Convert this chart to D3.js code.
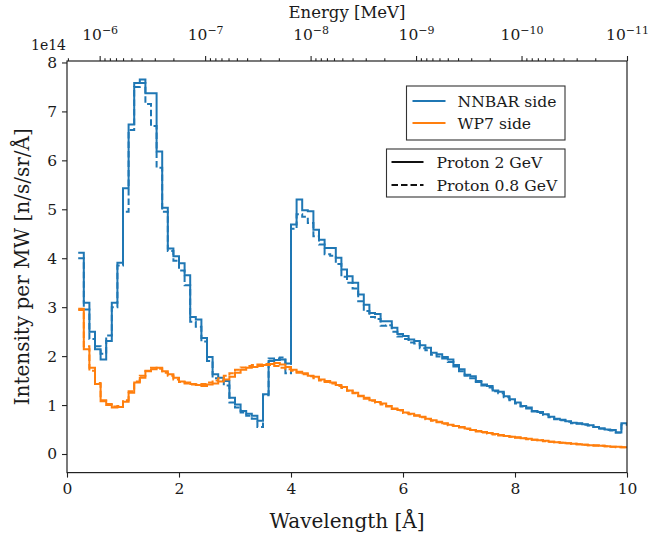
<!DOCTYPE html>
<html><head><meta charset="utf-8">
<script src="https://cdn.jsdelivr.net/npm/d3@7"></script>
<style>
body{margin:0;background:#fff}
svg{display:block}
text{font-family:"DejaVu Serif",serif;fill:#1a1a1a}
</style>
</head><body>
<svg id="chart" width="649" height="536"></svg>
<script>
// ---- data ----
const binEdges = [0.2,0.3,0.4,0.5,0.6,0.7,0.8,0.9,1.0,1.1,1.2,1.3,1.4,1.5,1.6,1.7,1.8,1.9,2.0,2.1,2.2,2.3,2.4,2.5,2.6,2.7,2.8,2.9,3.0,3.1,3.2,3.3,3.4,3.5,3.6,3.7,3.8,3.9,4.0,4.1,4.2,4.3,4.4,4.5,4.6,4.7,4.8,4.9,5.0,5.1,5.2,5.3,5.4,5.5,5.6,5.7,5.8,5.9,6.0,6.1,6.2,6.3,6.4,6.5,6.6,6.7,6.8,6.9,7.0,7.1,7.2,7.3,7.4,7.5,7.6,7.7,7.8,7.9,8.0,8.1,8.2,8.3,8.4,8.5,8.6,8.7,8.8,8.9,9.0,9.1,9.2,9.3,9.4,9.5,9.6,9.7,9.8,9.9,10.0];

const nnbarProton2GeV = [4.11,3.09,2.50,2.14,1.93,2.31,3.09,3.91,5.43,6.73,7.58,7.65,7.37,7.37,6.18,5.03,4.20,4.04,3.90,3.65,2.80,2.75,2.37,1.98,1.63,1.56,1.49,1.15,1.01,0.88,0.82,0.78,0.68,1.22,1.90,1.92,1.93,1.85,4.69,5.20,4.98,4.96,4.58,4.38,4.21,4.21,4.01,3.77,3.63,3.50,3.26,3.05,2.88,2.86,2.71,2.71,2.58,2.45,2.41,2.34,2.31,2.22,2.17,2.07,2.04,1.98,1.93,1.82,1.73,1.62,1.59,1.49,1.42,1.39,1.30,1.27,1.18,1.12,1.05,0.98,0.95,0.88,0.86,0.81,0.76,0.72,0.70,0.67,0.64,0.63,0.61,0.59,0.55,0.52,0.50,0.49,0.44,0.63];
const nnbarProton08GeV = [4.00,2.95,2.35,2.20,2.05,2.42,3.00,3.85,4.95,6.62,7.50,7.58,7.15,6.70,5.85,4.95,4.15,3.95,3.75,3.45,2.70,2.60,2.30,1.90,1.55,1.50,1.40,1.05,0.95,0.85,0.78,0.72,0.55,1.20,1.95,1.95,1.97,1.65,4.60,4.90,4.85,4.72,4.45,4.28,4.08,4.05,3.88,3.62,3.50,3.38,3.12,2.92,2.80,2.76,2.62,2.63,2.50,2.40,2.35,2.28,2.26,2.16,2.12,2.03,1.99,1.95,1.88,1.79,1.69,1.60,1.55,1.47,1.40,1.36,1.28,1.24,1.16,1.10,1.03,0.97,0.93,0.87,0.84,0.80,0.75,0.71,0.69,0.66,0.63,0.62,0.60,0.58,0.55,0.52,0.49,0.48,0.44,0.60];
const wp7Proton2GeV = [2.94,2.14,1.76,1.43,1.08,1.00,0.95,0.96,1.07,1.25,1.46,1.56,1.69,1.73,1.76,1.69,1.63,1.56,1.48,1.46,1.43,1.41,1.39,1.42,1.44,1.48,1.52,1.58,1.66,1.72,1.76,1.78,1.80,1.82,1.84,1.86,1.83,1.78,1.72,1.68,1.65,1.60,1.58,1.52,1.49,1.46,1.41,1.37,1.30,1.25,1.19,1.15,1.10,1.06,1.03,0.98,0.93,0.90,0.85,0.82,0.79,0.76,0.72,0.69,0.66,0.63,0.60,0.57,0.55,0.52,0.49,0.47,0.45,0.43,0.41,0.39,0.37,0.35,0.34,0.32,0.31,0.29,0.28,0.27,0.25,0.24,0.23,0.22,0.21,0.20,0.19,0.18,0.18,0.17,0.16,0.15,0.15,0.14];
const wp7Proton08GeV = [2.97,2.20,1.70,1.45,1.10,1.02,0.97,0.98,1.10,1.28,1.48,1.60,1.70,1.76,1.74,1.66,1.60,1.52,1.47,1.44,1.42,1.42,1.43,1.46,1.50,1.55,1.60,1.65,1.72,1.77,1.80,1.82,1.83,1.84,1.82,1.80,1.76,1.73,1.70,1.66,1.63,1.59,1.55,1.50,1.47,1.44,1.39,1.35,1.29,1.24,1.18,1.13,1.09,1.05,1.01,0.97,0.92,0.89,0.84,0.81,0.78,0.75,0.71,0.68,0.65,0.62,0.59,0.57,0.54,0.51,0.49,0.46,0.44,0.42,0.40,0.38,0.37,0.35,0.33,0.32,0.30,0.29,0.28,0.26,0.25,0.24,0.23,0.22,0.21,0.20,0.19,0.18,0.17,0.17,0.16,0.15,0.14,0.14];

const xTickValues = [0,2,4,6,8,10];
const yTickValues = [0,1,2,3,4,5,6,7,8];
const energyMajorTicks = [1e-6,1e-7,1e-8,1e-9,1e-10,1e-11];
const energyExponents = ["−6","−7","−8","−9","−10","−11"];
const seriesNames = ["NNBAR side","WP7 side"];
const beamNames = ["Proton 2 GeV","Proton 0.8 GeV"];

// ---- layout ----
const m = {left:67, right:627, top:61, bottom:472.6};
const svg = d3.select("#chart");

const x = d3.scaleLinear().domain([0,10]).range([m.left,m.right]);
const y = d3.scaleLinear().domain([-0.38,8.03]).range([m.bottom,m.top]);
const xTop = d3.scaleLog().domain([2.04e-6,1e-11]).range([m.left,m.right]);

const blue = "#1f77b4", orange = "#ff7f0e";

svg.append("defs").append("clipPath").attr("id","clip")
  .append("rect").attr("x",m.left).attr("y",m.top).attr("width",m.right-m.left).attr("height",m.bottom-m.top);

const line = d3.line().x(d=>x(d[0])).y(d=>y(d[1])).curve(d3.curveStepAfter);
function pts(vals){ return binEdges.map((e,i)=>[e, vals[Math.min(i, vals.length-1)]]); }

const g = svg.append("g").attr("clip-path","url(#clip)");
const series = [
  {v:nnbarProton2GeV, c:blue, dash:null},
  {v:nnbarProton08GeV, c:blue, dash:"6.5,3"},
  {v:wp7Proton2GeV, c:orange, dash:null},
  {v:wp7Proton08GeV, c:orange, dash:"6.5,3"}
];
series.forEach(s=>{
  g.append("path").attr("d", line(pts(s.v))).attr("fill","none")
   .attr("stroke", s.c).attr("stroke-width",2)
   .attr("stroke-dasharray", s.dash).attr("stroke-linejoin","miter");
});

// ---- axes ----
const fs = 15.5;
const xAx = svg.append("g").attr("transform",`translate(0,${m.bottom})`)
  .call(d3.axisBottom(x).tickValues(xTickValues).tickSize(5).tickPadding(5).tickFormat(d3.format("d")));
const yAx = svg.append("g").attr("transform",`translate(${m.left},0)`)
  .call(d3.axisLeft(y).tickValues(yTickValues).tickSize(5).tickPadding(5).tickFormat(d3.format("d")));
const minorTicks = [];
energyMajorTicks.forEach(t=>{ for(let k=2;k<=9;k++){ const v=t*k; if(v<=2.04e-6) minorTicks.push(v);} });
const tAxMinor = svg.append("g").attr("transform",`translate(0,${m.top})`)
  .call(d3.axisTop(xTop).tickValues(minorTicks).tickSize(2.8).tickFormat(""));
const tAx = svg.append("g").attr("transform",`translate(0,${m.top})`)
  .call(d3.axisTop(xTop).tickValues(energyMajorTicks).tickSize(5).tickFormat(""));

[xAx,yAx,tAx,tAxMinor].forEach(a=>{
  a.select(".domain").remove();
  a.selectAll("line").attr("stroke","#222").attr("stroke-width",1.1);
  a.selectAll("text").attr("font-size",fs).attr("font-family","DejaVu Serif").attr("fill","#1a1a1a");
});

// top tick labels with superscripts
tAx.selectAll(".tick").each(function(d,i){
  const t = d3.select(this).append("text").attr("y",-21).attr("text-anchor","middle")
    .attr("font-size",fs).attr("fill","#1a1a1a");
  t.append("tspan").text("10");
  t.append("tspan").attr("dy",-6.5).attr("font-size",11).text(energyExponents[i]);
});

// frame
svg.append("rect").attr("x",m.left).attr("y",m.top).attr("width",m.right-m.left).attr("height",m.bottom-m.top)
  .attr("fill","none").attr("stroke","#222").attr("stroke-width",1.2);

// labels
svg.append("text").attr("x",(m.left+m.right)/2).attr("y",528).attr("text-anchor","middle")
  .attr("font-size",20).text("Wavelength [Å]");
svg.append("text").attr("x",(m.left+m.right)/2).attr("y",18).attr("text-anchor","middle")
  .attr("font-size",16.5).text("Energy [MeV]");
svg.append("text").attr("transform",`translate(29,${(m.top+m.bottom)/2}) rotate(-90)`).attr("text-anchor","middle")
  .attr("font-size",20).text("Intensity per MW [n/s/sr/Å]");
svg.append("text").attr("x",m.left-1).attr("y",m.top-11).attr("text-anchor","end")
  .attr("font-size",14).text("1e14");

// legends
function legend(x0,y0,w,h,items){
  const lg = svg.append("g");
  lg.append("rect").attr("x",x0).attr("y",y0).attr("width",w).attr("height",h)
    .attr("fill","#fff").attr("stroke","#333").attr("stroke-width",1.1);
  items.forEach((it,i)=>{
    const yy = y0 + it.dy;
    lg.append("line").attr("x1",x0+it.lx0).attr("x2",x0+it.lx1).attr("y1",yy).attr("y2",yy)
      .attr("stroke",it.c).attr("stroke-width",2).attr("stroke-dasharray",it.dash);
    lg.append("text").attr("x",x0+it.tx).attr("y",yy+5.5).attr("font-size",15.6).text(it.label);
  });
}
legend(406.5,86,158.5,54,[
  {label:seriesNames[0],c:blue,dash:null,dy:15,lx0:6,lx1:39,tx:51},
  {label:seriesNames[1],c:orange,dash:null,dy:37,lx0:6,lx1:39,tx:51}
]);
legend(386.5,149,178.5,48,[
  {label:beamNames[0],c:"#111",dash:null,dy:13,lx0:5,lx1:37,tx:50},
  {label:beamNames[1],c:"#111",dash:"6.5,3",dy:36,lx0:5,lx1:37,tx:50}
]);
</script>
</body></html>
